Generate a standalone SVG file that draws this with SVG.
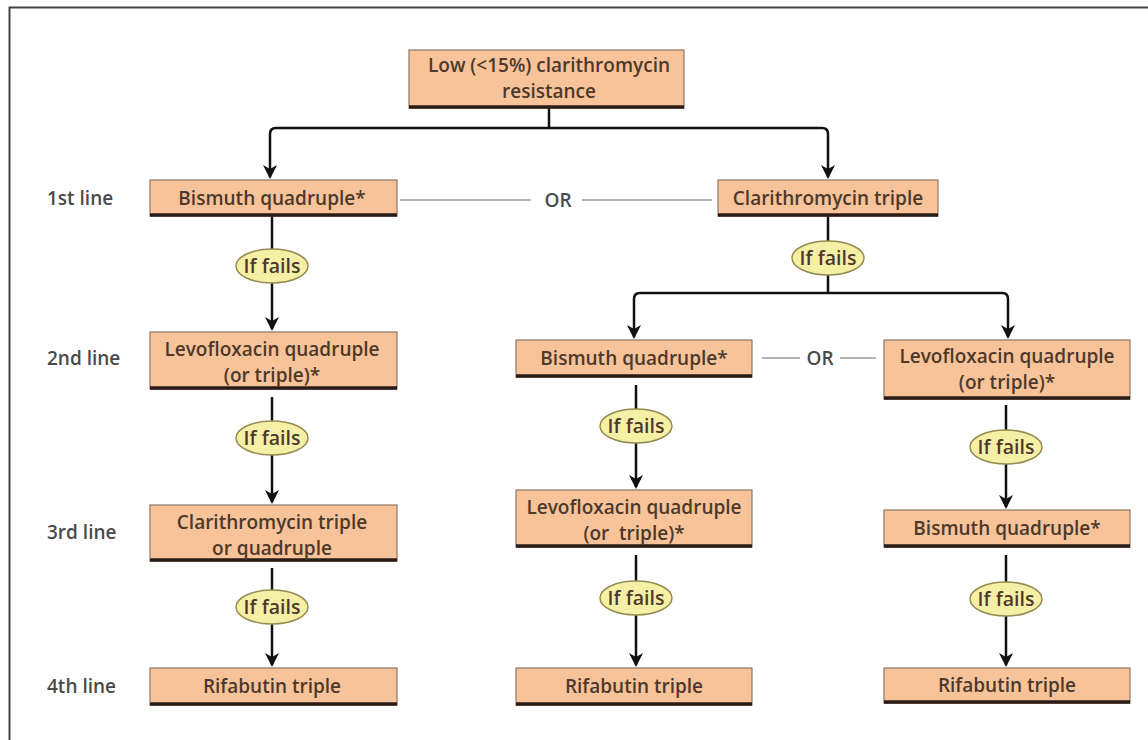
<svg xmlns="http://www.w3.org/2000/svg" width="1148" height="740" viewBox="0 0 1148 740">
<defs>
<marker id="ah" markerUnits="userSpaceOnUse" markerWidth="14" markerHeight="14" viewBox="0 0 14 14" refX="12" refY="7" orient="auto-start-reverse">
<path d="M0,0 L4,7 L0,14 L14,7 Z" fill="#111"/>
</marker>
</defs>
<style>
.box{fill:#f8c399;stroke:#8c7766;stroke-width:1.2}
.base{stroke:#2a1c14;stroke-width:3.5}
.t{font-family:"Open Sans",Lato,sans-serif;font-weight:600;font-size:19px;fill:#4d392b;text-anchor:middle}
.lbl{font-family:"Open Sans",Lato,sans-serif;font-weight:600;font-size:19px;fill:#4a4a4a}
.ell{fill:#f6f0a6;stroke:#958c52;stroke-width:1.5}
.et{font-family:"Open Sans",Lato,sans-serif;font-weight:600;font-size:19.5px;fill:#4d392b;text-anchor:middle}
.c{fill:none;stroke:#111;stroke-width:2.5}
.or{stroke:#9a9a9a;stroke-width:1.5}
.ort{font-family:"Open Sans",Lato,sans-serif;font-weight:600;font-size:19px;fill:#4a4a4a;text-anchor:middle}
</style>
<rect width="1148" height="740" fill="#fff"/>
<path d="M9.5,740 V7.5 H1148" fill="none" stroke="#444" stroke-width="2"/>
<g id="labels">
<text class="lbl" x="47" y="205">1st line</text>
<text class="lbl" x="47" y="365">2nd line</text>
<text class="lbl" x="47" y="539">3rd line</text>
<text class="lbl" x="47" y="693">4th line</text>
</g>
<g id="connectors">
<path class="c" d="M549,108 V128"/>
<path class="c" d="M270,177 V134 Q270,128 276,128 H822 Q828,128 828,134 V177" marker-start="url(#ah)" marker-end="url(#ah)"/>
<path class="c" d="M272,216 V249"/>
<path class="c" d="M272,283 V329" marker-end="url(#ah)"/>
<path class="c" d="M828,216 V241"/>
<path class="c" d="M828,275 V293"/>
<path class="c" d="M634,337 V299 Q634,293 640,293 H1002 Q1008,293 1008,299 V337" marker-start="url(#ah)" marker-end="url(#ah)"/>
<path class="c" d="M272,397 V421"/>
<path class="c" d="M272,455 V502" marker-end="url(#ah)"/>
<path class="c" d="M636,385 V409"/>
<path class="c" d="M636,443 V487" marker-end="url(#ah)"/>
<path class="c" d="M1006,405 V430"/>
<path class="c" d="M1006,464 V507" marker-end="url(#ah)"/>
<path class="c" d="M272,568 V590"/>
<path class="c" d="M272,624 V665" marker-end="url(#ah)"/>
<path class="c" d="M636,555 V581"/>
<path class="c" d="M636,615 V665" marker-end="url(#ah)"/>
<path class="c" d="M1006,555 V582"/>
<path class="c" d="M1006,616 V665" marker-end="url(#ah)"/>
<line class="or" x1="400" y1="200" x2="531" y2="200"/>
<line class="or" x1="582" y1="200" x2="712" y2="200"/>
<text class="ort" x="558" y="207">OR</text>
<line class="or" x1="762" y1="358" x2="800" y2="358"/>
<line class="or" x1="840" y1="358" x2="876" y2="358"/>
<text class="ort" x="820" y="365">OR</text>
</g>
<g id="n-top">
<rect class="box" x="409" y="50" width="275" height="58"/>
<line class="base" x1="409" y1="107" x2="684" y2="107"/>
<text class="t" x="549" y="72">Low (&lt;15%) clarithromycin</text>
<text class="t" x="549" y="98">resistance</text>
</g>
<g id="n-l1">
<rect class="box" x="150" y="180" width="247" height="36"/>
<line class="base" x1="150" y1="215" x2="397" y2="215"/>
<text class="t" x="272" y="205">Bismuth quadruple*</text>
</g>
<g id="n-r1">
<rect class="box" x="718" y="180" width="220" height="36"/>
<line class="base" x1="718" y1="215" x2="938" y2="215"/>
<text class="t" x="828" y="205">Clarithromycin triple</text>
</g>
<g id="f-l1"><ellipse class="ell" cx="272" cy="266" rx="36" ry="17"/><text class="et" x="272" y="273">If fails</text></g>
<g id="f-r1"><ellipse class="ell" cx="828" cy="258" rx="36" ry="17"/><text class="et" x="828" y="265">If fails</text></g>
<g id="n-l2">
<rect class="box" x="150" y="332" width="247" height="57"/>
<line class="base" x1="150" y1="388" x2="397" y2="388"/>
<text class="t" x="272" y="356">Levofloxacin quadruple</text>
<text class="t" x="272" y="382">(or triple)*</text>
</g>
<g id="n-m2">
<rect class="box" x="516" y="340" width="236" height="37"/>
<line class="base" x1="516" y1="376" x2="752" y2="376"/>
<text class="t" x="634" y="365">Bismuth quadruple*</text>
</g>
<g id="n-r2">
<rect class="box" x="884" y="340" width="246" height="59"/>
<line class="base" x1="884" y1="398" x2="1130" y2="398"/>
<text class="t" x="1007" y="363">Levofloxacin quadruple</text>
<text class="t" x="1007" y="389">(or triple)*</text>
</g>
<g id="f-l2"><ellipse class="ell" cx="272" cy="438" rx="36" ry="17"/><text class="et" x="272" y="445">If fails</text></g>
<g id="f-m2"><ellipse class="ell" cx="636" cy="426" rx="36" ry="17"/><text class="et" x="636" y="433">If fails</text></g>
<g id="f-r2"><ellipse class="ell" cx="1006" cy="447" rx="36" ry="17"/><text class="et" x="1006" y="454">If fails</text></g>
<g id="n-l3">
<rect class="box" x="150" y="505" width="247" height="56"/>
<line class="base" x1="150" y1="560" x2="397" y2="560"/>
<text class="t" x="272" y="529">Clarithromycin triple</text>
<text class="t" x="272" y="555">or quadruple</text>
</g>
<g id="n-m3">
<rect class="box" x="516" y="490" width="236" height="57"/>
<line class="base" x1="516" y1="546" x2="752" y2="546"/>
<text class="t" x="634" y="514">Levofloxacin quadruple</text>
<text class="t" x="634" y="540" xml:space="preserve">(or  triple)*</text>
</g>
<g id="n-r3">
<rect class="box" x="884" y="510" width="246" height="37"/>
<line class="base" x1="884" y1="546" x2="1130" y2="546"/>
<text class="t" x="1007" y="535">Bismuth quadruple*</text>
</g>
<g id="f-l3"><ellipse class="ell" cx="272" cy="607" rx="36" ry="17"/><text class="et" x="272" y="614">If fails</text></g>
<g id="f-m3"><ellipse class="ell" cx="636" cy="598" rx="36" ry="17"/><text class="et" x="636" y="605">If fails</text></g>
<g id="f-r3"><ellipse class="ell" cx="1006" cy="599" rx="36" ry="17"/><text class="et" x="1006" y="606">If fails</text></g>
<g id="n-l4">
<rect class="box" x="150" y="668" width="247" height="37"/>
<line class="base" x1="150" y1="704" x2="397" y2="704"/>
<text class="t" x="272" y="693">Rifabutin triple</text>
</g>
<g id="n-m4">
<rect class="box" x="516" y="668" width="236" height="37"/>
<line class="base" x1="516" y1="704" x2="752" y2="704"/>
<text class="t" x="634" y="693">Rifabutin triple</text>
</g>
<g id="n-r4">
<rect class="box" x="884" y="668" width="246" height="35"/>
<line class="base" x1="884" y1="702" x2="1130" y2="702"/>
<text class="t" x="1007" y="692">Rifabutin triple</text>
</g>
</svg>
